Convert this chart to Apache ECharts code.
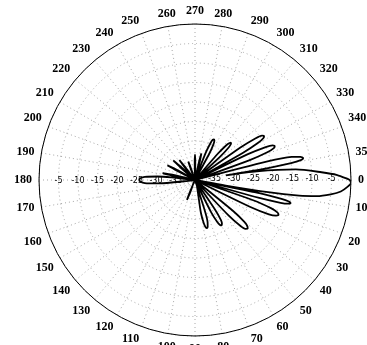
<!DOCTYPE html>
<html>
<head>
<meta charset="utf-8">
<script src="https://cdn.jsdelivr.net/npm/echarts@6/dist/echarts.min.js"></script>
<style>html,body{margin:0;padding:0;background:#fff;}#c{width:367px;height:345px;}</style>
</head>
<body>
<div id="c"></div>
<script>
const angles = [
  0, 1, 2.5, 4.5, 6, 7.5, 8.5, 9.5, 10.3,
  10.8, 11.5, 12.3, 12.9, 13.5, 14.2, 14.9, 15.6, 16.5,
  18.1, 19.2, 20.4, 21.5, 22.6, 23.7, 24.9, 26, 27.1,
  37.8, 39.1, 40.3, 41.6, 42.8, 44.1, 45.3, 46.6, 47.8,
  54.6, 55.9, 57.1, 58.4, 59.6, 60.9, 62.1, 63.4, 64.6,
  71, 72.3, 73.5, 74.8, 76, 77.3, 78.5, 79.8, 81,
  109.5, 111, 112, 113, 114.5,
  173, 174.8, 176.5, 178.3, 180, 181.8, 183.5, 185.3, 187,
  189, 191, 192, 193, 195,
  205, 207, 208, 209, 211,
  219, 221, 222, 223, 225,
  230, 231, 232, 233, 235,
  248, 249, 250, 251, 252,
  267, 269, 270, 271, 273,
  281, 282.5, 283.5, 284.5, 286,
  290.5, 291.6, 292.8, 293.9, 295, 296.1, 297.3, 298.4, 299.5,
  310, 311, 312, 313, 314, 315, 316, 317, 318,
  323.5, 324.5, 325.5, 326.5, 327.5, 328.5, 329.5, 330.5, 331.5,
  333, 334, 335, 336, 337, 338, 339, 340, 341,
  344.6, 345.6, 346.6, 347.6, 348.6, 349.4, 350.1, 350.7, 351.3,
  352, 354, 356.5, 358, 359.5, 360
];
const gainDb = [
  -0.3, 0, -0.8, -2.5, -5, -8.5, -13, -21, -32,
  -40, -22.9, -17.3, -15.3, -14.8, -15.3, -17.3, -22.9, -40,
  -40, -24.2, -19.1, -17.3, -16.8, -17.3, -19.1, -24.2, -40,
  -40, -27.5, -23.4, -22, -21.6, -22, -23.4, -27.5, -40,
  -40, -30.8, -27.8, -26.8, -26.5, -26.8, -27.8, -30.8, -40,
  -40, -31.4, -28.6, -27.6, -27.3, -27.6, -28.6, -31.4, -40,
  -40, -36.5, -34.5, -36.5, -40,
  -40, -30.3, -27.1, -26, -25.7, -26, -27.1, -30.3, -40,
  -40, -34, -31.5, -34, -40,
  -40, -34.5, -32, -34.5, -40,
  -40, -35, -32.5, -35, -40,
  -40, -36, -33.5, -36, -40,
  -40, -37, -35, -37, -40,
  -40, -35.5, -33.5, -35.5, -40,
  -40, -35, -33, -35, -40,
  -40, -32.2, -29.7, -28.7, -28.5, -28.7, -29.7, -32.2, -40,
  -40, -31, -28, -27, -26.7, -27, -28, -31, -40,
  -40, -25.7, -21.1, -19.4, -19, -19.4, -21.1, -25.7, -40,
  -40, -24.9, -20, -18.2, -17.8, -18.2, -20, -24.9, -40,
  -40, -20.8, -14.5, -12.3, -11.7, -12.4, -15, -21, -32,
  -24, -14, -7.5, -3.5, -1, -0.3
];
const angleTicks = [0, 360, 10];      // min, max, step
const radiusTicks = [-40, 0, 5];      // min, max, step

const chart = echarts.init(document.getElementById('c'), null, {renderer: 'canvas'});
const center = [195, 180];
const radius = 156;
const gridLine = {show: true, lineStyle: {color: '#a8a8a8', type: [1, 3], width: 1}};
const radLabel = {
  show: true, fontSize: 8, color: '#000', fontFamily: 'DejaVu Sans',
  margin: -3, showMinLabel: false, showMaxLabel: false
};
chart.setOption({
  animation: false,
  backgroundColor: '#fff',
  polar: [
    {center: center, radius: radius},
    {center: center, radius: radius}
  ],
  angleAxis: [
    {
      polarIndex: 0, type: 'value', min: angleTicks[0], max: angleTicks[1], interval: angleTicks[2],
      startAngle: 0, clockwise: true,
      axisLine: {show: true, lineStyle: {color: '#000', width: 1}},
      axisTick: {show: false},
      axisLabel: {
        show: true, margin: 7, color: '#000', fontSize: 12, fontWeight: 'bold',
        fontFamily: 'Liberation Serif',
        formatter: v => (v === 360 ? '' : String(v))
      },
      splitLine: gridLine
    },
    {
      polarIndex: 1, type: 'value', min: angleTicks[0], max: angleTicks[1], interval: angleTicks[2],
      startAngle: 180, clockwise: true,
      axisLine: {show: false}, axisTick: {show: false}, axisLabel: {show: false}, splitLine: {show: false}
    }
  ],
  radiusAxis: [
    {
      polarIndex: 0, type: 'value', min: radiusTicks[0], max: radiusTicks[1], interval: radiusTicks[2],
      axisLine: {show: false}, axisTick: {show: false},
      axisLabel: radLabel,
      splitLine: gridLine
    },
    {
      polarIndex: 1, type: 'value', min: radiusTicks[0], max: radiusTicks[1], interval: radiusTicks[2],
      axisLine: {show: false}, axisTick: {show: false},
      axisLabel: radLabel,
      splitLine: {show: false}
    }
  ],
  series: [{
    type: 'line',
    coordinateSystem: 'polar',
    polarIndex: 0,
    data: angles.map((a, i) => [gainDb[i], a]),
    showSymbol: false,
    smooth: 0.25,
    lineStyle: {color: '#000', width: 1.8},
    clip: false
  }]
});
</script>
</body>
</html>
